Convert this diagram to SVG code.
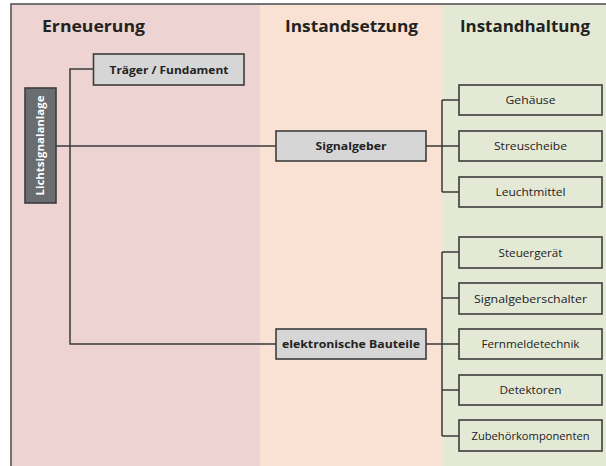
<svg xmlns="http://www.w3.org/2000/svg" width="606" height="466" viewBox="0 0 606 466">
  <style>
    .hdr { font-family: "Open Sans", "Noto Sans", "Liberation Sans", sans-serif; font-weight: bold; font-size: 16.5px; fill: #222; }
    .lbl { font-family: "Open Sans", "Noto Sans", "Liberation Sans", sans-serif; font-size: 10.5px; fill: #222; text-anchor: middle; }
    .b { font-weight: bold; }
    .grey rect { fill: #D6D6D6; stroke: #3c3c3c; stroke-width: 1.6; }
    .leaf rect { fill: #E4E9D6; stroke: #3c3c3c; stroke-width: 1.6; }
    .root rect { fill: #6A6D6F; stroke: #3c3c3c; stroke-width: 1.6; }
    .root text { fill: #ffffff; }
    #connectors path { fill: none; stroke: #3a3a3a; stroke-width: 1.5; }
  </style>

  <!-- phase columns -->
  <rect x="0" y="0" width="606" height="466" fill="#ffffff"/>
  <rect x="11" y="4" width="249" height="470" fill="#EDD3D1"/>
  <rect x="260" y="4" width="182" height="470" fill="#F9E2D3"/>
  <rect x="442" y="4" width="170" height="470" fill="#E4E9D6"/>
  <rect x="11" y="4" width="620" height="480" fill="none" stroke="#555555" stroke-width="1.6"/>

  <text class="hdr" x="42" y="32" textLength="103" lengthAdjust="spacingAndGlyphs">Erneuerung</text>
  <text class="hdr" x="285" y="32" textLength="133" lengthAdjust="spacingAndGlyphs">Instandsetzung</text>
  <text class="hdr" x="460" y="32" textLength="130" lengthAdjust="spacingAndGlyphs">Instandhaltung</text>

  <!-- connectors -->
  <g id="connectors">
    <path d="M56 146 H276"/>
    <path d="M93.5 69 H70 V344 H276"/>
    <path d="M426 146 H459 M442 100 V192 M442 100 H459 M442 192 H459"/>
    <path d="M426 344 H459 M442 252 V436 M442 252 H459 M442 298 H459 M442 390 H459 M442 436 H459"/>
  </g>

  <!-- root -->
  <g id="lichtsignalanlage" class="root">
    <rect x="25" y="88" width="31" height="115"/>
    <text class="lbl b" transform="translate(44 145.5) rotate(-90)" textLength="100" lengthAdjust="spacingAndGlyphs">Lichtsignalanlage</text>
  </g>

  <!-- second level -->
  <g id="traeger" class="grey">
    <rect x="93.5" y="54" width="150.5" height="31"/>
    <text class="lbl b" x="169" y="73.5" textLength="119" lengthAdjust="spacingAndGlyphs">Träger / Fundament</text>
  </g>
  <g id="signalgeber" class="grey">
    <rect x="276" y="131" width="150" height="30"/>
    <text class="lbl b" x="351" y="150" textLength="71" lengthAdjust="spacingAndGlyphs">Signalgeber</text>
  </g>
  <g id="elektronik" class="grey">
    <rect x="276" y="329" width="150" height="30"/>
    <text class="lbl b" x="351" y="348" textLength="138" lengthAdjust="spacingAndGlyphs">elektronische Bauteile</text>
  </g>

  <!-- leaves -->
  <g id="gehaeuse" class="leaf">
    <rect x="459" y="85" width="143" height="30"/>
    <text class="lbl" x="530.5" y="104" textLength="50" lengthAdjust="spacingAndGlyphs">Gehäuse</text>
  </g>
  <g id="streuscheibe" class="leaf">
    <rect x="459" y="131" width="143" height="30"/>
    <text class="lbl" x="530.5" y="150" textLength="73" lengthAdjust="spacingAndGlyphs">Streuscheibe</text>
  </g>
  <g id="leuchtmittel" class="leaf">
    <rect x="459" y="177" width="143" height="30"/>
    <text class="lbl" x="530.5" y="196" textLength="70" lengthAdjust="spacingAndGlyphs">Leuchtmittel</text>
  </g>
  <g id="steuergeraet" class="leaf">
    <rect x="459" y="237" width="143" height="31"/>
    <text class="lbl" x="530.5" y="256.5" textLength="64" lengthAdjust="spacingAndGlyphs">Steuergerät</text>
  </g>
  <g id="signalgeberschalter" class="leaf">
    <rect x="459" y="283" width="143" height="31"/>
    <text class="lbl" x="530.5" y="302.5" textLength="113" lengthAdjust="spacingAndGlyphs">Signalgeberschalter</text>
  </g>
  <g id="fernmeldetechnik" class="leaf">
    <rect x="459" y="329" width="143" height="30"/>
    <text class="lbl" x="530.5" y="348" textLength="98" lengthAdjust="spacingAndGlyphs">Fernmeldetechnik</text>
  </g>
  <g id="detektoren" class="leaf">
    <rect x="459" y="375" width="143" height="30"/>
    <text class="lbl" x="530.5" y="394" textLength="62" lengthAdjust="spacingAndGlyphs">Detektoren</text>
  </g>
  <g id="zubehoer" class="leaf">
    <rect x="459" y="420" width="143" height="31"/>
    <text class="lbl" x="530.5" y="439.5" textLength="118" lengthAdjust="spacingAndGlyphs">Zubehörkomponenten</text>
  </g>
</svg>
